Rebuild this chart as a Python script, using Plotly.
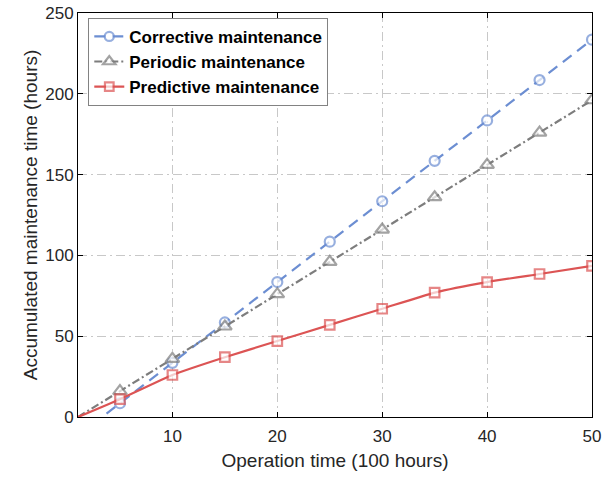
import plotly.graph_objects as go

# Data
x_all = [1, 5, 10, 15, 20, 25, 30, 35, 40, 45, 50]
corrective = [-11.5, 8.5, 33.5, 58.5, 83.5, 108.5, 133.5, 158.5, 183.5, 208.5, 233.5]
periodic = [0, 16, 36, 56, 76, 96, 116, 136, 156, 176, 196]
predictive = [0, 11, 26, 37, 47, 57, 67, 77, 83.5, 88.5, 93.5]
names = ["Corrective maintenance", "Periodic maintenance", "Predictive maintenance"]
x_ticks = [10, 20, 30, 40, 50]
y_ticks = [0, 50, 100, 150, 200, 250]

BLUE = "rgb(108,142,210)"
GRAY = "rgb(125,125,125)"
RED = "rgb(220,84,84)"

msize = [0] + [10] * (len(x_all) - 1)

fig = go.Figure()
fig.add_trace(go.Scatter(
    x=x_all, y=corrective, name=names[0], mode="lines+markers",
    line=dict(color=BLUE, width=2.2, dash="11px,7px"),
    marker=dict(symbol="circle", size=msize, color="white", line=dict(color=BLUE, width=2.2)),
))
fig.add_trace(go.Scatter(
    x=x_all, y=periodic, name=names[1], mode="lines+markers",
    line=dict(color=GRAY, width=2.2, dash="8px,3px,2px,3px"),
    marker=dict(symbol="triangle-up", size=[s * 1.2 for s in msize], color="white", line=dict(color=GRAY, width=2.2)),
))
fig.add_trace(go.Scatter(
    x=x_all, y=predictive, name=names[2], mode="lines+markers",
    line=dict(color=RED, width=2.2, shape="spline", smoothing=0.5),
    marker=dict(symbol="square", size=[s * 0.95 for s in msize], color="white", line=dict(color=RED, width=2.2)),
))

axis_common = dict(
    showline=True, linecolor="black", linewidth=1, mirror="ticks",
    ticks="inside", ticklen=5, tickcolor="black",
    showgrid=True, gridcolor="rgb(200,200,200)", gridwidth=1,
    griddash="9px,4px,2px,4px", zeroline=False, automargin=False,
    tickfont=dict(size=17, color="rgb(38,38,38)"),
    title_font=dict(size=19, color="rgb(38,38,38)"),
)

fig.update_xaxes(range=[1, 50], tickvals=x_ticks, title_text="Operation time (100 hours)",
                 title_standoff=8, ticklabelstandoff=4, **axis_common)
fig.update_yaxes(range=[0, 250], tickvals=y_ticks, title_text="Accumulated maintenance time (hours)",
                 title_standoff=2, **axis_common)

fig.update_layout(
    width=613, height=477,
    margin=dict(l=78, r=21, t=13, b=60),
    plot_bgcolor="white", paper_bgcolor="white",
    font=dict(family="Liberation Sans, Arial, sans-serif"),
    legend=dict(
        x=0.02, y=0.988, xanchor="left", yanchor="top",
        bgcolor="white", bordercolor="rgb(130,130,130)", borderwidth=1,
        font=dict(size=17, color="black", weight="bold"),
        tracegroupgap=0, itemwidth=30,
    ),
    showlegend=True,
)

fig.write_html("out.html")
